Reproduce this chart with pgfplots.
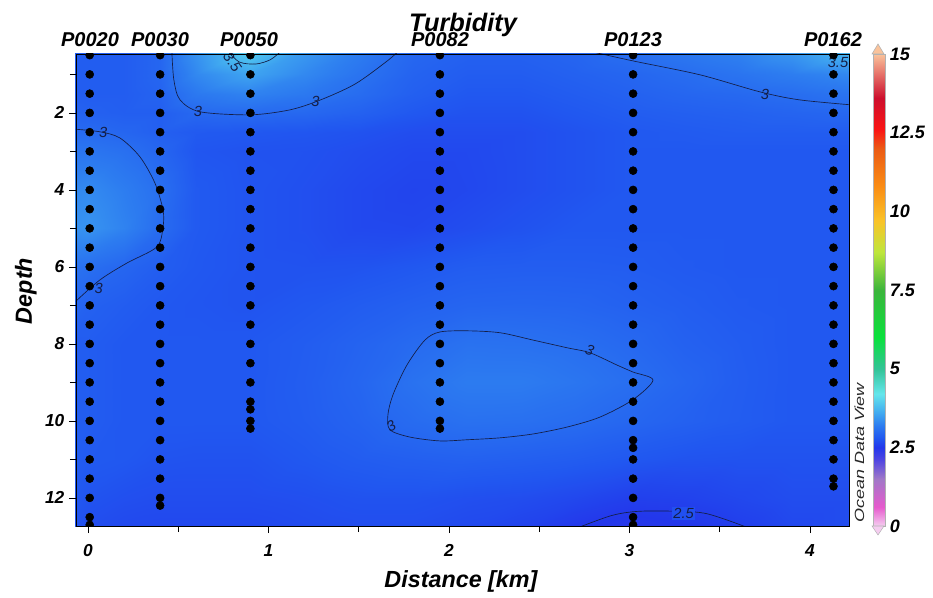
\documentclass[border=0pt]{standalone}
\usepackage{fontspec}
\setmainfont{Liberation Sans}
\usepackage{graphicx}
\usepackage{pgfplots}
\pgfplotsset{compat=1.18}
\pgfplotsset{colormap={odv}{
 rgb255(0cm)=(245,205,240); rgb255(0.6cm)=(230,90,205); rgb255(1.5cm)=(160,120,200);
 rgb255(2.1cm)=(80,70,225); rgb255(2.5cm)=(35,55,235); rgb255(2.8cm)=(33,88,240);
 rgb255(3.2cm)=(45,125,240); rgb255(3.6cm)=(65,170,240); rgb255(4.2cm)=(100,230,235);
 rgb255(5cm)=(50,195,150); rgb255(6cm)=(10,225,60); rgb255(7.5cm)=(60,180,60);
 rgb255(8.7cm)=(190,230,60); rgb255(9.7cm)=(250,195,40); rgb255(10.8cm)=(250,140,20);
 rgb255(12cm)=(235,90,20); rgb255(12.6cm)=(250,20,20); rgb255(13.6cm)=(205,15,45);
 rgb255(15cm)=(250,195,155)}}
\definecolor{cline}{RGB}{20,30,70}
\tikzset{
 clabel/.style={font=\fontsize{11}{11}\selectfont\itshape, text=cline, inner sep=1pt},
 cont/.style={draw=cline, line width=0.5pt, smooth},
}
\begin{document}
\begin{tikzpicture}[x=0.75pt,y=0.75pt]
\begin{axis}[
 scale only axis, width=579.75pt, height=354pt,
 xmin=-0.066, xmax=4.216, ymin=0.47, ymax=12.73, y dir=reverse,
 axis on top, clip marker paths=true,
 xtick={0,1,2,3,4}, minor xtick={0.5,1.5,2.5,3.5},
 ytick={2,4,...,12}, minor ytick={1,3,...,11},
 xtick pos=bottom, ytick pos=left, tick align=outside,
 major tick length=5.25pt, minor tick length=4.5pt,
 tick style={black, line width=0.5pt},
 axis line style={black, line width=0.6pt},
 /pgf/number format/assume math mode=true,
 ticklabel style={font=\fontsize{13}{13}\selectfont\bfseries\itshape},
 xticklabel style={yshift=-5pt},
 colormap name=odv, point meta min=0, point meta max=15,
 colorbar,
 colorbar style={
   at={(parent axis.north east)}, anchor=north west, xshift=9.5pt,
   width=9pt, height=354pt, scale only axis,
   ytick={0,2.5,...,15}, yticklabel pos=right,
   yticklabel style={font=\fontsize{13.5}{13.5}\selectfont\bfseries\itshape,
     /pgf/number format/assume math mode=true,
     /pgf/number format/fixed, /pgf/number format/precision=1},
   major tick length=0pt,
   axis line style={draw=gray!60, line width=0.4pt},
 },
]
\coordinate (O) at (axis cs:-0.066,12.73);
\addplot[surf, shader=interp, mesh/cols=17, point meta=explicit] table[x=x, y=y, meta=v] {
x y v
-0.07 0.4 2.85
0 0.4 2.85
0.2 0.4 2.85
0.4 0.4 2.95
0.6 0.4 3.40
0.9 0.4 3.95
1.2 0.4 3.45
1.5 0.4 3.20
1.8 0.4 2.97
2.1 0.4 2.90
2.4 0.4 2.90
2.7 0.4 2.95
3.0 0.4 3.05
3.3 0.4 3.15
3.6 0.4 3.25
3.9 0.4 3.45
4.22 0.4 3.75
-0.07 1.0 2.85
0 1.0 2.85
0.2 1.0 2.85
0.4 1.0 2.95
0.6 1.0 3.30
0.9 1.0 3.55
1.2 1.0 3.30
1.5 1.0 3.10
1.8 1.0 2.92
2.1 1.0 2.85
2.4 1.0 2.85
2.7 1.0 2.90
3.0 1.0 2.95
3.3 1.0 3.02
3.6 1.0 3.10
3.9 1.0 3.20
4.22 1.0 3.30
-0.07 1.5 2.85
0 1.5 2.85
0.2 1.5 2.85
0.4 1.5 2.92
0.6 1.5 3.15
0.9 1.5 3.25
1.2 1.5 3.15
1.5 1.5 3.02
1.8 1.5 2.88
2.1 1.5 2.80
2.4 1.5 2.80
2.7 1.5 2.85
3.0 1.5 2.90
3.3 1.5 2.95
3.6 1.5 2.98
3.9 1.5 3.03
4.22 1.5 3.10
-0.07 2.0 2.92
0 2.0 2.90
0.2 2.0 2.87
0.4 2.0 2.87
0.6 2.0 2.97
0.9 2.0 3.00
1.2 2.0 2.97
1.5 2.0 2.90
1.8 2.0 2.80
2.1 2.0 2.75
2.4 2.0 2.75
2.7 2.0 2.80
3.0 2.0 2.85
3.3 2.0 2.88
3.6 2.0 2.90
3.9 2.0 2.93
4.22 2.0 2.96
-0.07 2.5 3.00
0 2.5 3.00
0.2 2.5 2.95
0.4 2.5 2.88
0.6 2.5 2.82
0.9 2.5 2.80
1.2 2.5 2.78
1.5 2.5 2.75
1.8 2.5 2.70
2.1 2.5 2.70
2.4 2.5 2.70
2.7 2.5 2.75
3.0 2.5 2.80
3.3 2.5 2.83
3.6 2.5 2.85
3.9 2.5 2.85
4.22 2.5 2.85
-0.07 3.0 3.12
0 3.0 3.12
0.2 3.0 3.06
0.4 3.0 2.95
0.6 3.0 2.78
0.9 3.0 2.75
1.2 3.0 2.74
1.5 3.0 2.70
1.8 3.0 2.66
2.1 3.0 2.66
2.4 3.0 2.70
2.7 3.0 2.75
3.0 3.0 2.80
3.3 3.0 2.80
3.6 3.0 2.80
3.9 3.0 2.80
4.22 3.0 2.80
-0.07 4.0 3.30
0 4.0 3.32
0.2 4.0 3.20
0.4 4.0 3.05
0.6 4.0 2.82
0.9 4.0 2.76
1.2 4.0 2.72
1.5 4.0 2.66
1.8 4.0 2.62
2.1 4.0 2.65
2.4 4.0 2.70
2.7 4.0 2.75
3.0 4.0 2.80
3.3 4.0 2.80
3.6 4.0 2.80
3.9 4.0 2.80
4.22 4.0 2.80
-0.07 5.0 3.38
0 5.0 3.40
0.2 5.0 3.25
0.4 5.0 3.02
0.6 5.0 2.82
0.9 5.0 2.76
1.2 5.0 2.72
1.5 5.0 2.66
1.8 5.0 2.65
2.1 5.0 2.70
2.4 5.0 2.75
2.7 5.0 2.80
3.0 5.0 2.80
3.3 5.0 2.80
3.6 5.0 2.80
3.9 5.0 2.80
4.22 5.0 2.80
-0.07 6.0 3.08
0 6.0 3.05
0.2 6.0 2.95
0.4 6.0 2.86
0.6 6.0 2.80
0.9 6.0 2.76
1.2 6.0 2.75
1.5 6.0 2.76
1.8 6.0 2.80
2.1 6.0 2.85
2.4 6.0 2.86
2.7 6.0 2.86
3.0 6.0 2.85
3.3 6.0 2.82
3.6 6.0 2.80
3.9 6.0 2.80
4.22 6.0 2.80
-0.07 7.0 2.95
0 7.0 2.90
0.2 7.0 2.85
0.4 7.0 2.80
0.6 7.0 2.78
0.9 7.0 2.76
1.2 7.0 2.80
1.5 7.0 2.85
1.8 7.0 2.90
2.1 7.0 2.94
2.4 7.0 2.95
2.7 7.0 2.94
3.0 7.0 2.90
3.3 7.0 2.86
3.6 7.0 2.82
3.9 7.0 2.80
4.22 7.0 2.80
-0.07 8.0 2.85
0 8.0 2.85
0.2 8.0 2.80
0.4 8.0 2.80
0.6 8.0 2.80
0.9 8.0 2.80
1.2 8.0 2.85
1.5 8.0 2.92
1.8 8.0 3.00
2.1 8.0 3.08
2.4 8.0 3.07
2.7 8.0 3.04
3.0 8.0 2.98
3.3 8.0 2.90
3.6 8.0 2.85
3.9 8.0 2.80
4.22 8.0 2.80
-0.07 9.0 2.85
0 9.0 2.85
0.2 9.0 2.80
0.4 9.0 2.80
0.6 9.0 2.80
0.9 9.0 2.80
1.2 9.0 2.86
1.5 9.0 2.95
1.8 9.0 3.08
2.1 9.0 3.18
2.4 9.0 3.18
2.7 9.0 3.12
3.0 9.0 3.04
3.3 9.0 2.95
3.6 9.0 2.86
3.9 9.0 2.80
4.22 9.0 2.80
-0.07 10.0 2.85
0 10.0 2.85
0.2 10.0 2.80
0.4 10.0 2.80
0.6 10.0 2.80
0.9 10.0 2.80
1.2 10.0 2.85
1.5 10.0 2.92
1.8 10.0 3.01
2.1 10.0 3.07
2.4 10.0 3.06
2.7 10.0 3.02
3.0 10.0 2.96
3.3 10.0 2.90
3.6 10.0 2.85
3.9 10.0 2.80
4.22 10.0 2.80
-0.07 11.0 2.85
0 11.0 2.82
0.2 11.0 2.80
0.4 11.0 2.76
0.6 11.0 2.75
0.9 11.0 2.75
1.2 11.0 2.80
1.5 11.0 2.85
1.8 11.0 2.88
2.1 11.0 2.90
2.4 11.0 2.88
2.7 11.0 2.85
3.0 11.0 2.80
3.3 11.0 2.76
3.6 11.0 2.75
3.9 11.0 2.75
4.22 11.0 2.75
-0.07 12.0 2.80
0 12.0 2.76
0.2 12.0 2.72
0.4 12.0 2.70
0.6 12.0 2.70
0.9 12.0 2.70
1.2 12.0 2.72
1.5 12.0 2.75
1.8 12.0 2.75
2.1 12.0 2.72
2.4 12.0 2.70
2.7 12.0 2.65
3.0 12.0 2.58
3.3 12.0 2.60
3.6 12.0 2.65
3.9 12.0 2.70
4.22 12.0 2.70
-0.07 12.8 2.75
0 12.8 2.70
0.2 12.8 2.66
0.4 12.8 2.65
0.6 12.8 2.65
0.9 12.8 2.65
1.2 12.8 2.68
1.5 12.8 2.70
1.8 12.8 2.70
2.1 12.8 2.66
2.4 12.8 2.60
2.7 12.8 2.50
3.0 12.8 2.44
3.3 12.8 2.48
3.6 12.8 2.56
3.9 12.8 2.65
4.22 12.8 2.70
};
% contour lines
\addplot[cont, no markers] coordinates {(0.465,0.40) (0.476,1.14) (0.51,1.66) (0.62,1.97) (0.90,2.05) (1.12,1.92) (1.29,1.66) (1.48,1.25) (1.65,0.68) (1.72,0.40)};
\addplot[cont, no markers] coordinates {(0.775,0.40) (0.84,0.68) (0.93,0.73) (1.01,0.62) (1.07,0.40)};
\addplot[cont, no markers] coordinates {(2.78,0.40) (3.02,0.65) (3.39,1.01) (3.72,1.45) (3.94,1.66) (4.25,1.80)};
\addplot[cont, no markers] coordinates {(-0.08,2.42) (0.066,2.49) (0.177,2.65) (0.288,3.14) (0.371,3.82) (0.416,4.52) (0.416,4.96) (0.382,5.48) (0.216,5.90) (0.066,6.34) (-0.08,6.95)};
\addplot[cont, no markers, smooth cycle] coordinates {(1.867,7.90) (1.950,7.69) (2.100,7.66) (2.283,7.71) (2.465,7.90) (2.654,8.10) (2.781,8.23) (2.931,8.55) (3.019,8.73) (3.130,8.94) (3.019,9.45) (2.837,9.90) (2.654,10.16) (2.465,10.34) (2.283,10.44) (2.100,10.49) (1.950,10.52) (1.784,10.42) (1.673,10.23) (1.662,9.84) (1.690,9.32) (1.767,8.55)};
\addplot[cont, no markers] coordinates {(2.70,12.80) (2.892,12.47) (3.019,12.36) (3.17,12.34) (3.418,12.40) (3.67,12.80)};
% contour labels
\node[clabel] at (axis cs:0.61,1.97) {3};
\node[clabel] at (axis cs:1.26,1.71) {3};
\node[clabel, rotate=-55] at (axis cs:0.80,0.68) {3.5};
\node[clabel] at (axis cs:3.75,1.53) {3};
\node[clabel] at (axis cs:4.155,0.70) {3.5};
\node[clabel] at (axis cs:0.085,2.52) {3};
\node[clabel] at (axis cs:0.06,6.55) {3};
\node[clabel, rotate=-20] at (axis cs:2.78,8.16) {3};
\node[clabel, rotate=30] at (axis cs:1.68,10.13) {3};
\node[clabel, fill={rgb,255:red,33;green,80;blue,240}] at (axis cs:3.30,12.40) {2.5};
% sample points
\addplot[only marks, mark=*, mark size=3pt, black] table {
x y
0.01 0.5
0.01 1.0
0.01 1.5
0.01 2.0
0.01 2.5
0.01 3.0
0.01 3.5
0.01 4.0
0.01 4.5
0.01 5.0
0.01 5.5
0.01 6.0
0.01 6.5
0.01 7.0
0.01 7.5
0.01 8.0
0.01 8.5
0.01 9.0
0.01 9.5
0.01 10.0
0.01 10.5
0.01 11.0
0.01 11.5
0.01 12.0
0.01 12.5
0.01 12.7
0.40 0.5
0.40 1.0
0.40 1.5
0.40 2.0
0.40 2.5
0.40 3.0
0.40 3.5
0.40 4.0
0.40 4.5
0.40 5.0
0.40 5.5
0.40 6.0
0.40 6.5
0.40 7.0
0.40 7.5
0.40 8.0
0.40 8.5
0.40 9.0
0.40 9.5
0.40 10.0
0.40 10.5
0.40 11.0
0.40 11.5
0.40 12.0
0.40 12.2
0.90 0.5
0.90 1.0
0.90 1.5
0.90 2.0
0.90 2.5
0.90 3.0
0.90 3.5
0.90 4.0
0.90 4.5
0.90 5.0
0.90 5.5
0.90 6.0
0.90 6.5
0.90 7.0
0.90 7.5
0.90 8.0
0.90 8.5
0.90 9.0
0.90 9.5
0.90 9.7
0.90 10.0
0.90 10.2
1.95 0.5
1.95 1.0
1.95 1.5
1.95 2.0
1.95 2.5
1.95 3.0
1.95 3.5
1.95 4.0
1.95 4.5
1.95 5.0
1.95 5.5
1.95 6.0
1.95 6.5
1.95 7.0
1.95 7.5
1.95 8.0
1.95 8.5
1.95 9.0
1.95 9.5
1.95 10.0
1.95 10.2
3.02 0.5
3.02 1.0
3.02 1.5
3.02 2.0
3.02 2.5
3.02 3.0
3.02 3.5
3.02 4.0
3.02 4.5
3.02 5.0
3.02 5.5
3.02 6.0
3.02 6.5
3.02 7.0
3.02 7.5
3.02 8.0
3.02 8.5
3.02 9.0
3.02 9.5
3.02 10.0
3.02 10.5
3.02 10.7
3.02 11.0
3.02 11.5
3.02 12.0
3.02 12.5
3.02 12.7
4.13 0.5
4.13 1.0
4.13 1.5
4.13 2.0
4.13 2.5
4.13 3.0
4.13 3.5
4.13 4.0
4.13 4.5
4.13 5.0
4.13 5.5
4.13 6.0
4.13 6.5
4.13 7.0
4.13 7.5
4.13 8.0
4.13 8.5
4.13 9.0
4.13 9.5
4.13 10.0
4.13 10.5
4.13 11.0
4.13 11.5
4.13 11.7
};
\end{axis}
\begin{scope}[shift={(O)}, shift={(-76,-71)}]
\path (0,0) rectangle (933,597);
% colorbar end caps
\filldraw[draw=gray!60, line width=0.4pt, fill={rgb,255:red,250;green,195;blue,155}] (872,543) -- (878,553) -- (884,543) -- cycle;
\filldraw[draw=gray!60, line width=0.4pt, fill={rgb,255:red,245;green,205;blue,240}] (872,71) -- (878,62) -- (884,71) -- cycle;
% texts
\node[anchor=base, font=\fontsize{19}{19}\selectfont\bfseries\itshape] at (463,565) {Turbidity};
\begin{scope}[every node/.style={anchor=base, font=\fontsize{15}{15}\selectfont\bfseries\itshape}]
\node at (90,550) {P0020};
\node at (160,550) {P0030};
\node at (249,550) {P0050};
\node at (440,550) {P0082};
\node at (633,550) {P0123};
\node at (833,550) {P0162};
\end{scope}
\node[anchor=base, font=\fontsize{17.5}{17.5}\selectfont\bfseries\itshape] at (461,9) {Distance [km]};
\node[anchor=base, rotate=90, font=\fontsize{17.5}{17.5}\selectfont\bfseries\itshape] at (32,306) {Depth};
\node[anchor=base, rotate=90, font=\fontsize{10}{10}\selectfont\itshape, text={rgb,255:red,40;green,40;blue,40}] at (864,144) {\scalebox{1.35}[1]{Ocean Data View}};
\end{scope}
\end{tikzpicture}
\end{document}
